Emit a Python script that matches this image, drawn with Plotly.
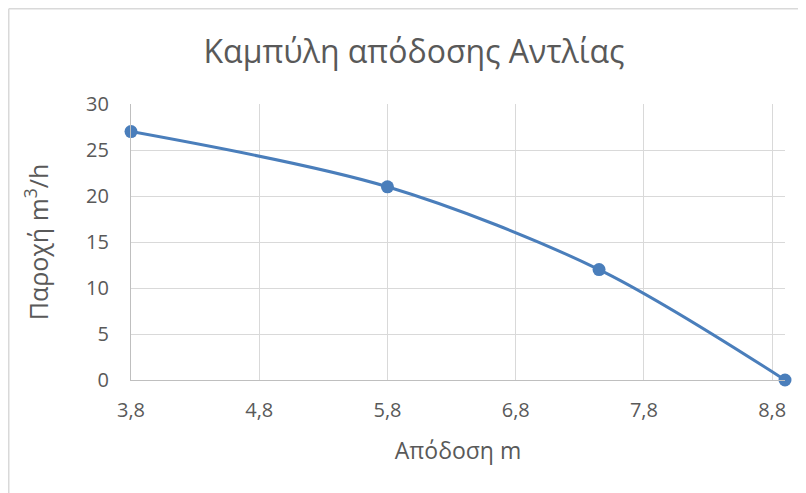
import plotly.graph_objects as go

# Data
head_m = [3.8, 5.8, 7.45, 8.9]
flow_m3h = [27, 21, 12, 0]
x_ticks = [3.8, 4.8, 5.8, 6.8, 7.8, 8.8]
x_tick_labels = ["3,8", "4,8", "5,8", "6,8", "7,8", "8,8"]
y_ticks = [0, 5, 10, 15, 20, 25, 30]

# page is offset by the 8px body margin
W, H = 798, 485
L, R, T, B = 123, 21, 96, 113
pw, ph = W - L - R, H - T - B

def px_x(p):
    return (p - L) / pw

def px_y(p):
    return (H - B - p) / ph

text_color = "#595959"
font = "Open Sans"

fig = go.Figure()
fig.add_trace(go.Scatter(
    x=head_m, y=flow_m3h, mode="lines+markers",
    line=dict(color="#4a7ebb", width=3, shape="spline", smoothing=0.9),
    marker=dict(size=13, color="#4a7ebb"),
    cliponaxis=False, showlegend=False,
))

fig.update_layout(
    width=W, height=H,
    margin=dict(l=L, r=R, t=T, b=B),
    paper_bgcolor="white", plot_bgcolor="white",
    font=dict(family=font, color=text_color),
    title=dict(text="Καμπύλη απόδοσης Αντλίας", x=406 / W, xanchor="center",
               y=1 - 44 / H, yanchor="middle",
               font=dict(size=32, color=text_color, family=font)),
    xaxis=dict(range=[3.8, 8.9], tickmode="array", tickvals=x_ticks, ticktext=x_tick_labels,
               showgrid=True, gridcolor="#d9d9d9", gridwidth=1.3,
               zeroline=False, showline=True, linecolor="#bfbfbf", linewidth=1.3,
               ticks="", ticklabelstandoff=12,
               tickfont=dict(size=20, color=text_color),
               title=dict(text="Απόδοση m", font=dict(size=23, color=text_color), standoff=20)),
    yaxis=dict(range=[0, 30], tickmode="array", tickvals=y_ticks,
               showgrid=True, gridcolor="#d9d9d9", gridwidth=1.3,
               zeroline=False, showline=True, linecolor="#bfbfbf", linewidth=1.3,
               ticks="", ticklabelstandoff=17,
               tickfont=dict(size=20, color=text_color),
               title=dict(text="Παροχή m<sup>3</sup>/h", font=dict(size=25, color=text_color), standoff=30)),
    shapes=[
        dict(type="line", xref="paper", yref="paper", x0=px_x(0.75), x1=px_x(W + 5),
             y0=px_y(0.75), y1=px_y(0.75), line=dict(color="#d9d9d9", width=1.5)),
        dict(type="line", xref="paper", yref="paper", x0=px_x(0.75), x1=px_x(0.75),
             y0=px_y(0.75), y1=px_y(H + 5), line=dict(color="#d9d9d9", width=1.5)),
    ],
)

fig.write_html("out.html")
